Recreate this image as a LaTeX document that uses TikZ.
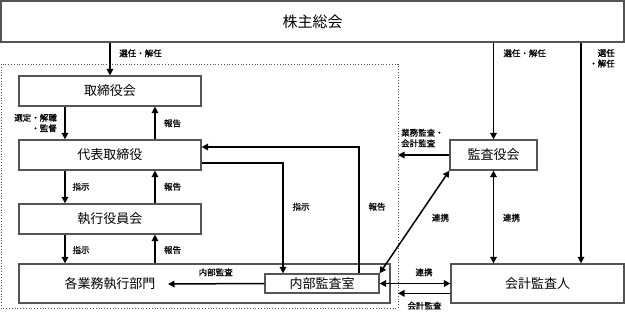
\documentclass[tikz,border=0pt]{standalone}
\usepackage{fontspec}
\setmainfont{Noto Sans CJK JP}
\newfontfamily\lblfont[FakeBold=0.8]{Noto Sans CJK JP}
\usetikzlibrary{arrows.meta,calc}
\definecolor{boxline}{RGB}{85,85,85}
\begin{document}
\begin{tikzpicture}[x=1pt,y=-1pt,
  box/.style={draw=boxline,line width=1.2pt,inner sep=0pt,fill=white},
  boxtext/.style={inner sep=0pt,font=\fontsize{13}{15}\selectfont},
  lbl/.style={inner sep=0pt,font=\lblfont\fontsize{8.5}{10.6}\selectfont},
  arr/.style={line width=1.5pt,-{Triangle[length=6.5pt,width=6.5pt]}},
  darr/.style={line width=1.5pt,{Triangle[length=6.5pt,width=6.5pt]}-{Triangle[length=6.5pt,width=6.5pt]}},
  dotbox/.style={draw=boxline,line width=0.8pt,dotted}]
\useasboundingbox (0,0) rectangle (625,318);
\draw[dotbox] (1,64) rectangle (398,308);
% boxes
\node[box,minimum width=623pt,minimum height=41pt,font=\fontsize{15}{17}\selectfont] (sh) at (312.5,21.5) {株主総会};
\node[box,boxtext,minimum width=182pt,minimum height=30pt] (tr) at (110,91) {取締役会};
\node[box,boxtext,minimum width=182pt,minimum height=30pt] (dh) at (110,155) {代表取締役};
\node[box,boxtext,minimum width=182pt,minimum height=30pt] (sy) at (110,219) {執行役員会};
\node[box,minimum width=371pt,minimum height=39pt] (kg) at (204.5,283.5) {};
\node[boxtext] (kgt) at (110,284) {各業務執行部門};
\node[box,boxtext,minimum width=114pt,minimum height=19pt] (ia) at (322,283.5) {内部監査室};
\node[box,boxtext,minimum width=87pt,minimum height=30pt] (ka) at (493.5,155) {監査役会};
\node[box,boxtext,minimum width=173pt,minimum height=39pt] (kk) at (537.5,283.5) {会計監査人};
\coordinate (kgin) at (168,284);
\coordinate (dr1) at (398,155);
\coordinate (dr2) at (398,293.3);
% arrows
\draw[arr] (sh.south -| tr.north) -- (tr.north);
\draw[arr] (sh.south -| ka.north) -- (ka.north);
\draw[arr] ([xshift=43.5pt]kk.north |- sh.south) -- ([xshift=43.5pt]kk.north);
\draw[arr] ([xshift=-45pt]tr.south) -- ([xshift=-45pt]dh.north);
\draw[arr] ([xshift=45pt]dh.north) -- ([xshift=45pt]tr.south);
\draw[arr] ([xshift=-45pt]dh.south) -- ([xshift=-45pt]sy.north);
\draw[arr] ([xshift=45pt]sy.north) -- ([xshift=45pt]dh.south);
\draw[arr] ([xshift=-45pt]sy.south) -- ([xshift=-45pt]sy.south |- kg.north);
\draw[arr] ([xshift=45pt]sy.south |- kg.north) -- ([xshift=45pt]sy.south);
\draw[arr] ([yshift=-8pt]dh.east) -| ([xshift=-39pt]ia.north);
\draw[arr] ([xshift=37pt]ia.north) |- ([yshift=8pt]dh.east);
\draw[arr] (ia.west) -- (kgin);
\draw[arr] (ka.west) -- (dr1);
\draw[darr] (ia.north east) -- (ka.south west);
\draw[darr] (ka.south) -- (ka.south |- kk.north);
\draw[darr] (ia.east) -- (kk.west |- ia.east);
\draw[arr] ([yshift=-9.8pt]kk.west) -- (dr2);
% labels
\node[lbl] (l1) at (140.5,53.3) {選任・解任};
\node[lbl] (l2) at (524.7,53.3) {選任・解任};
\node[lbl,align=right,anchor=east] (l3) at (615,58.3) {選任\\・解任};
\node[lbl,align=right,anchor=east] (l4) at (57,123) {選定・解職\\・監督};
\node[lbl] (l5) at (172.5,123.3) {報告};
\node[lbl] (l6) at (81,186.7) {指示};
\node[lbl] (l7) at (172.5,186.7) {報告};
\node[lbl] (l8) at (81,250) {指示};
\node[lbl] (l9) at (172.5,250) {報告};
\node[lbl] (l10) at (215.7,272.3) {内部監査};
\node[lbl] (l11) at (301,206.7) {指示};
\node[lbl] (l12) at (377,206.7) {報告};
\node[lbl] (l13) at (440.5,217.7) {連携};
\node[lbl] (l14) at (511.5,217.7) {連携};
\node[lbl] (l15) at (424,272.3) {連携};
\node[lbl] (l16) at (424.5,305.7) {会計監査};
\node[lbl,align=left,anchor=west] (l17) at (401,138) {業務監査・\\会計監査};
\end{tikzpicture}
\end{document}
